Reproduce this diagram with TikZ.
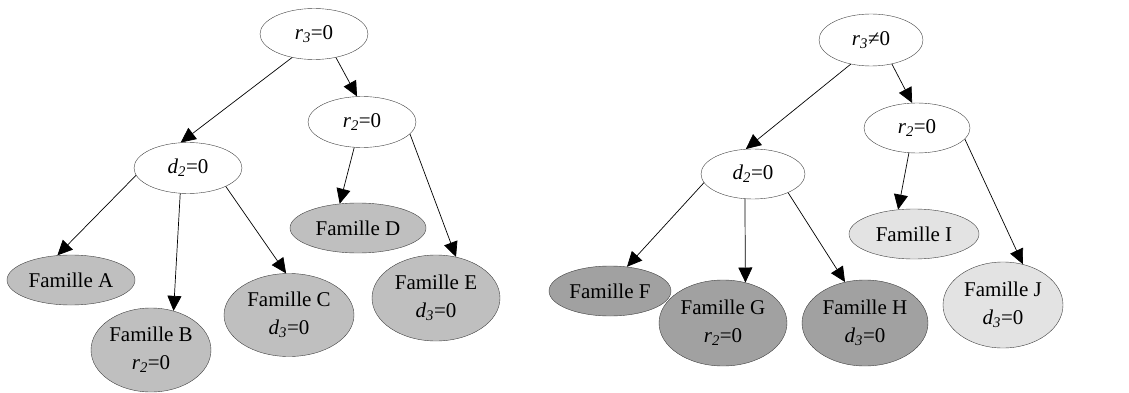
\documentclass[tikz,border=0pt]{standalone}
\usepackage{fontspec}
\setmainfont{Liberation Serif}
\usetikzlibrary{shapes.geometric,arrows.meta}
\newcommand{\vsub}[2]{\textit{#1}\textsubscript{\textit{#2}}}

\begin{document}
\begin{tikzpicture}[x=1pt,y=-1pt,
		every node/.style={font=\fontsize{21}{28}\selectfont},
		cond/.style={draw=black!75,ellipse,fill=white,inner sep=0pt,minimum width=108pt,minimum height=51pt},
		leaf/.style={draw=black!75,ellipse,inner sep=0pt,align=center,minimum height=50pt},
		fleche/.style={-{Triangle[length=15pt,width=14pt]},line width=0.7pt}]
			\useasboundingbox (0,0) rectangle (1129,393);
			% arbre r3=0
			\node[cond] (r3a) at (314,34) {\vsub{r}{3}=0};
			\node[cond] (r2a) at (362,122) {\vsub{r}{2}=0};
			\node[cond] (d2a) at (188,168) {\vsub{d}{2}=0};
			\node[leaf,fill=black!25,minimum width=128pt] (famA) at (71,280) {Famille A};
			\node[leaf,fill=black!25,minimum width=120pt,minimum height=84pt] (famB) at (151,350) {Famille B\\\vsub{r}{2}=0};
			\node[leaf,fill=black!25,minimum width=130pt,minimum height=83pt] (famC) at (289,315) {Famille C\\\vsub{d}{3}=0};
			\node[leaf,fill=black!25,minimum width=136pt] (famD) at (358,228) {Famille D};
			\node[leaf,fill=black!25,minimum width=128pt,minimum height=86pt] (famE) at (436,298) {Famille E\\\vsub{d}{3}=0};
			\draw[fleche] (r3a.227) -- (d2a.106);
			\draw[fleche] (r3a.313) -- (r2a.101);
			\draw[fleche] (d2a.188) -- (famA.119);
			\draw[fleche] (d2a.253) -- (famB.60);
			\draw[fleche] (d2a.334) -- (famC.94);
			\draw[fleche] (r2a.253) -- (famD.127);
			\draw[fleche] (r2a.346) -- (famE.64);
			% arbre r3 non nul
			\node[cond,minimum width=104pt,minimum height=52pt] (r3b) at (871,40) {\vsub{r}{3}≠0};
			\node[cond,minimum width=106pt,minimum height=50pt] (r2b) at (917,128) {\vsub{r}{2}=0};
			\node[cond,minimum width=104pt,minimum height=50pt] (d2b) at (753,174) {\vsub{d}{2}=0};
			\node[leaf,fill=black!37,minimum width=122pt] (famF) at (610,291) {Famille F};
			\node[leaf,fill=black!37,minimum width=128pt,minimum height=86pt] (famG) at (723,323) {Famille G\\\vsub{r}{2}=0};
			\node[leaf,fill=black!37,minimum width=126pt,minimum height=86pt] (famH) at (865,323) {Famille H\\\vsub{d}{3}=0};
			\node[leaf,fill=black!11,minimum width=130pt] (famI) at (914,234) {Famille I};
			\node[leaf,fill=black!11,minimum width=120pt,minimum height=86pt] (famJ) at (1003,305) {Famille J\\\vsub{d}{3}=0};
			\draw[fleche] (r3b.230) -- (d2b.106);
			\draw[fleche] (r3b.311) -- (r2b.101);
			\draw[fleche] (d2b.190) -- (famF.55);
			\draw[fleche] (d2b.252) -- (famG.61);
			\draw[fleche] (d2b.332) -- (famH.116);
			\draw[fleche] (r2b.252) -- (famI.123);
			\draw[fleche] (r2b.347) -- (famJ.64);
	\end{tikzpicture}
\end{document}
